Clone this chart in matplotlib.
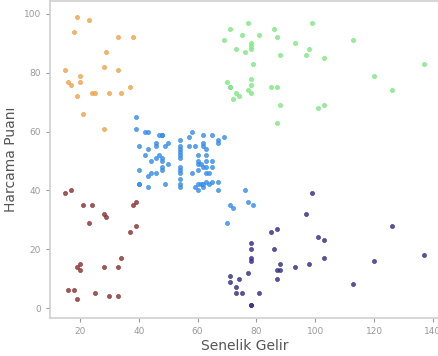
import matplotlib
matplotlib.use("Agg")
import matplotlib.pyplot as plt

# Cluster data: (annual income, spending score)
orange_income = [15, 16, 17, 18, 19, 19, 20, 20, 21, 23, 24, 25, 28, 28, 29, 30, 33, 33, 34, 37, 38]
orange_score  = [81, 77, 76, 94, 72, 99, 77, 79, 66, 98, 73, 73, 82, 61, 87, 73, 92, 81, 73, 75, 92]

red_income = [15, 16, 17, 18, 19, 19, 20, 20, 21, 23, 24, 25, 28, 28, 29, 30, 33, 33, 34, 37, 38, 39, 39]
red_score  = [39, 6, 40, 6, 3, 14, 15, 13, 35, 29, 35, 5, 14, 32, 31, 4, 4, 14, 17, 26, 35, 36, 28]

blue_income = [39, 39, 40, 40, 40, 40, 42, 42, 43, 43, 43, 43, 44, 44, 46, 46, 46, 46, 47, 47,
               48, 48, 48, 48, 48, 48, 49, 49, 50, 50, 54, 54, 54, 54, 54, 54, 54, 54, 54, 54,
               54, 54, 57, 57, 58, 58, 59, 59, 60, 60, 60, 60, 60, 60, 61, 61, 62, 62, 62, 62,
               62, 62, 63, 63, 63, 63, 63, 63, 64, 64, 65, 65, 65, 65, 67, 67, 67, 67, 69,
               70, 71, 72, 76, 77, 79]
blue_score  = [61, 65, 55, 47, 42, 42, 52, 60, 54, 60, 45, 41, 50, 46, 51, 46, 56, 55, 52, 59,
               51, 59, 50, 48, 59, 47, 55, 42, 49, 56, 47, 54, 53, 48, 52, 42, 51, 55, 41, 44,
               57, 46, 58, 55, 60, 46, 55, 41, 49, 40, 42, 52, 47, 50, 42, 49, 41, 48, 59, 55,
               56, 42, 50, 46, 43, 48, 52, 54, 42, 46, 48, 50, 43, 59, 43, 57, 56, 40, 58,
               29, 35, 34, 40, 36, 35]

green_income = [69, 70, 71, 71, 71, 72, 73, 73, 74, 75, 76, 77, 77, 78, 78, 78, 78, 78, 78, 79,
                81, 85, 86, 87, 87, 87, 88, 88, 93, 97, 98, 99, 101, 103, 103, 113, 120, 126, 137]
green_score  = [91, 77, 95, 75, 75, 71, 88, 73, 72, 93, 87, 97, 74, 90, 88, 76, 89, 78, 73, 83,
                93, 75, 95, 63, 75, 92, 86, 69, 90, 86, 88, 97, 68, 85, 69, 91, 79, 74, 83]

purple_income = [71, 71, 73, 73, 74, 75, 77, 78, 78, 78, 78, 78, 78, 81, 85, 86, 87, 87, 87, 88,
                 88, 93, 97, 98, 99, 101, 103, 103, 113, 120, 126, 137]
purple_score  = [11, 9, 5, 7, 10, 5, 12, 22, 17, 20, 16, 1, 1, 5, 26, 20, 27, 13, 10, 13,
                 15, 14, 32, 15, 39, 24, 17, 23, 8, 16, 28, 18]

x_ticks = [20, 40, 60, 80, 100, 120, 140]
y_ticks = [0, 20, 40, 60, 80, 100]
x_label = "Senelik Gelir"
y_label = "Harcama Puanı"

fig = plt.figure(figsize=(4.39, 3.56), dpi=100)
ax = fig.add_axes([50/439, 38/356, 389/439, 317/356])

groups = [
    (orange_income, orange_score, "#f4a84c", "#e8943a"),
    (red_income, red_score, "#93393a", "#7a2020"),
    (blue_income, blue_score, "#3a94f0", "#2a7ee0"),
    (green_income, green_score, "#86ec86", "#6cde78"),
    (purple_income, purple_score, "#3a3690", "#262270"),
]
for xs, ys, fc, ec in groups:
    ax.scatter(xs, ys, s=9, c=fc, edgecolors=ec, linewidths=0.4, alpha=0.85, zorder=3)

ax.set_xlim(9.8, 142.1)
ax.set_ylim(-3.4, 104.4)
ax.set_xticks(x_ticks)
ax.set_yticks(y_ticks)
ax.tick_params(axis="both", labelsize=6.5, colors="#999999", length=3, width=0.8)
for side in ["left", "bottom", "top", "right"]:
    ax.spines[side].set_color("#d0d0d0")
    ax.spines[side].set_linewidth(1.2)
ax.set_xlabel(x_label, fontsize=10, color="#555555", labelpad=2)
ax.set_ylabel(y_label, fontsize=10, color="#555555", labelpad=4)

fig.savefig("out.png", dpi=100)
